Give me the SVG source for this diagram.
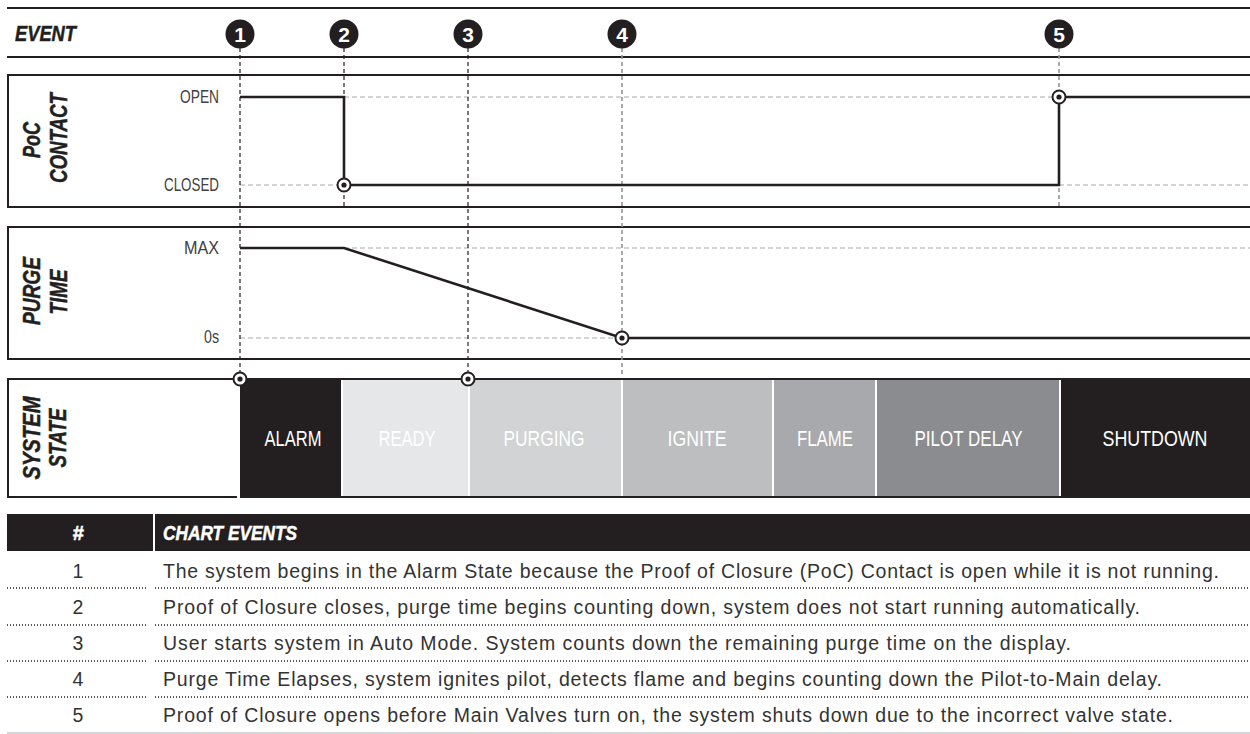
<svg xmlns="http://www.w3.org/2000/svg" width="1250" height="734" viewBox="0 0 1250 734">
  <defs>
    <style>
      .rule { stroke: #231f20; stroke-width: 2; fill: none; }
      .panel { fill: #ffffff; stroke: #231f20; stroke-width: 2; }
      .head { font-family: "Liberation Sans", Arial, sans-serif; font-weight: bold; font-style: italic; font-size: 22.5px; fill: #231f20; stroke: #231f20; stroke-width: 0.5; }
      .side { font-family: "Liberation Sans", Arial, sans-serif; font-weight: bold; font-style: italic; font-size: 24px; fill: #231f20; stroke: #231f20; stroke-width: 0.5; text-anchor: middle; }
      .axis { font-family: "Liberation Sans", Arial, sans-serif; font-size: 18px; fill: #414042; text-anchor: end; }
      .state { font-family: "Liberation Sans", Arial, sans-serif; font-size: 22px; fill: #ffffff; text-anchor: middle; }
      .num { font-family: "Liberation Sans", Arial, sans-serif; font-weight: bold; font-size: 21px; fill: #ffffff; text-anchor: middle; }
      .signal { stroke: #231f20; stroke-width: 2.6; fill: none; stroke-linejoin: miter; }
      .ref { stroke: #a7a9ac; stroke-width: 1; stroke-dasharray: 5 3; fill: none; }
      .evt-dark { stroke: #231f20; stroke-width: 1.2; stroke-dasharray: 4 3; fill: none; }
      .evt-grey { stroke: #939598; stroke-width: 1.6; stroke-dasharray: 4 3; fill: none; }
      .cell { font-family: "Liberation Sans", Arial, sans-serif; font-size: 19.5px; fill: #333333; }
      .cellnum { font-family: "Liberation Sans", Arial, sans-serif; font-size: 19.5px; fill: #333333; text-anchor: middle; }
      .dots { stroke: #231f20; stroke-width: 1.5; stroke-dasharray: 1 2; fill: none; }
    </style>
    <g id="dot-marker">
      <circle r="6.5" fill="#ffffff" stroke="#231f20" stroke-width="2"/>
      <circle r="2.6" fill="#231f20"/>
    </g>
  </defs>

  <rect width="1250" height="734" fill="#ffffff"/>

  <!-- event header row -->
  <g id="event-row">
    <line class="rule" x1="7" y1="8" x2="1250" y2="8"/>
    <line class="rule" x1="7" y1="57" x2="1250" y2="57"/>
    <text class="head" x="15" y="41" textLength="61" lengthAdjust="spacingAndGlyphs">EVENT</text>
  </g>

  <!-- chart panels -->
  <g id="panel-poc">
    <path class="panel" d="M1251,75 H8 V207 H1251"/>
    <text class="side" transform="translate(40,140) rotate(-90)" textLength="36" lengthAdjust="spacingAndGlyphs">PoC</text>
    <text class="side" transform="translate(67,138) rotate(-90)" textLength="90" lengthAdjust="spacingAndGlyphs">CONTACT</text>
    <text class="axis" x="219" y="103" textLength="39" lengthAdjust="spacingAndGlyphs">OPEN</text>
    <text class="axis" x="219" y="191" textLength="55" lengthAdjust="spacingAndGlyphs">CLOSED</text>
  </g>

  <g id="panel-purge">
    <path class="panel" d="M1251,227 H8 V359 H1251"/>
    <text class="side" transform="translate(40,291) rotate(-90)" textLength="68" lengthAdjust="spacingAndGlyphs">PURGE</text>
    <text class="side" transform="translate(67,292) rotate(-90)" textLength="45" lengthAdjust="spacingAndGlyphs">TIME</text>
    <text class="axis" x="219" y="254" textLength="35" lengthAdjust="spacingAndGlyphs">MAX</text>
    <text class="axis" x="219" y="343" textLength="15" lengthAdjust="spacingAndGlyphs">0s</text>
  </g>

  <g id="panel-state">
    <path class="panel" d="M237,379 H8 V497 H237"/>
    <text class="side" transform="translate(40,438) rotate(-90)" textLength="83" lengthAdjust="spacingAndGlyphs">SYSTEM</text>
    <text class="side" transform="translate(66,438) rotate(-90)" textLength="59" lengthAdjust="spacingAndGlyphs">STATE</text>
  </g>

  <!-- system states -->
  <g id="state-alarm">
    <rect x="240" y="380" width="101" height="117" fill="#231f20"/>
    <text class="state" x="293" y="446" textLength="57" lengthAdjust="spacingAndGlyphs">ALARM</text>
  </g>
  <g id="state-ready">
    <rect x="343" y="380" width="125" height="117" fill="#e6e7e8"/>
    <text class="state" x="407" y="446" textLength="57" lengthAdjust="spacingAndGlyphs">READY</text>
  </g>
  <g id="state-purging">
    <rect x="470" y="380" width="151" height="117" fill="#d1d3d4"/>
    <text class="state" x="544" y="446" textLength="81" lengthAdjust="spacingAndGlyphs">PURGING</text>
  </g>
  <g id="state-ignite">
    <rect x="623" y="380" width="149" height="117" fill="#bcbec0"/>
    <text class="state" x="697" y="446" textLength="59" lengthAdjust="spacingAndGlyphs">IGNITE</text>
  </g>
  <g id="state-flame">
    <rect x="774" y="380" width="101" height="117" fill="#a7a9ac"/>
    <text class="state" x="825" y="446" textLength="56" lengthAdjust="spacingAndGlyphs">FLAME</text>
  </g>
  <g id="state-pilot-delay">
    <rect x="877" y="380" width="182" height="117" fill="#8a8c8f"/>
    <text class="state" x="968.5" y="446" textLength="108" lengthAdjust="spacingAndGlyphs">PILOT DELAY</text>
  </g>
  <g id="state-shutdown">
    <rect x="1061" y="380" width="189" height="117" fill="#231f20"/>
    <text class="state" x="1155" y="446" textLength="105" lengthAdjust="spacingAndGlyphs">SHUTDOWN</text>
  </g>
  <g id="state-frame">
    <line class="rule" x1="238" y1="379" x2="1250" y2="379"/>
    <line class="rule" x1="240" y1="497" x2="1250" y2="497"/>
  </g>

  <!-- event guides, level references and signal traces -->
  <g id="connectors">
    <line class="ref" x1="344" y1="97" x2="1059" y2="97"/>
    <line class="ref" x1="240" y1="185" x2="344" y2="185"/>
    <line class="ref" x1="1059" y1="185" x2="1250" y2="185"/>
    <line class="ref" x1="344" y1="248" x2="1250" y2="248"/>
    <line class="ref" x1="240" y1="338" x2="622" y2="338"/>

    <line class="evt-dark" x1="240" y1="48" x2="240" y2="373"/>
    <line class="evt-dark" x1="344" y1="48" x2="344" y2="207"/>
    <line class="evt-dark" x1="468" y1="48" x2="468" y2="373"/>
    <line class="evt-grey" x1="622" y1="48" x2="622" y2="376"/>
    <line class="evt-grey" x1="1059" y1="48" x2="1059" y2="207"/>

    <polyline class="signal" points="240,97 344,97 344,185 1059,185 1059,97 1250,97"/>
    <polyline class="signal" points="240,248 344,248 622,338 1250,338"/>

    <use href="#dot-marker" x="344" y="185"/>
    <use href="#dot-marker" x="1059" y="97"/>
    <use href="#dot-marker" x="622" y="338"/>
    <use href="#dot-marker" x="240" y="379"/>
    <use href="#dot-marker" x="468" y="379"/>
  </g>

  <!-- numbered event badges -->
  <g id="event-1"><circle cx="240" cy="34" r="14.5" fill="#231f20"/><text class="num" x="240" y="41.5">1</text></g>
  <g id="event-2"><circle cx="344" cy="34" r="14.5" fill="#231f20"/><text class="num" x="344" y="41.5">2</text></g>
  <g id="event-3"><circle cx="468" cy="34" r="14.5" fill="#231f20"/><text class="num" x="468" y="41.5">3</text></g>
  <g id="event-4"><circle cx="622" cy="34" r="14.5" fill="#231f20"/><text class="num" x="622" y="41.5">4</text></g>
  <g id="event-5"><circle cx="1059" cy="34" r="14.5" fill="#231f20"/><text class="num" x="1059" y="41.5">5</text></g>

  <!-- event table -->
  <g id="table-header">
    <rect x="7" y="514" width="146" height="37" fill="#231f20"/>
    <rect x="155" y="514" width="1095" height="37" fill="#231f20"/>
    <text class="head" x="78" y="540" text-anchor="middle" style="fill:#ffffff;stroke:#ffffff;font-size:20px">#</text>
    <text class="head" x="163" y="540" style="fill:#ffffff;stroke:#ffffff;font-size:20px" textLength="134" lengthAdjust="spacingAndGlyphs">CHART EVENTS</text>
  </g>
  <g id="table-row-1">
    <text class="cellnum" x="78" y="578">1</text>
    <text class="cell" x="163" y="578" textLength="1056">The system begins in the Alarm State because the Proof of Closure (PoC) Contact is open while it is not running.</text>
    <line class="dots" x1="7" y1="588" x2="148" y2="588"/>
    <line class="dots" x1="155" y1="588" x2="1250" y2="588"/>
  </g>
  <g id="table-row-2">
    <text class="cellnum" x="78" y="614">2</text>
    <text class="cell" x="163" y="614" textLength="977">Proof of Closure closes, purge time begins counting down, system does not start running automatically.</text>
    <line class="dots" x1="7" y1="625" x2="148" y2="625"/>
    <line class="dots" x1="155" y1="625" x2="1250" y2="625"/>
  </g>
  <g id="table-row-3">
    <text class="cellnum" x="78" y="650">3</text>
    <text class="cell" x="163" y="650" textLength="908">User starts system in Auto Mode. System counts down the remaining purge time on the display.</text>
    <line class="dots" x1="7" y1="661" x2="148" y2="661"/>
    <line class="dots" x1="155" y1="661" x2="1250" y2="661"/>
  </g>
  <g id="table-row-4">
    <text class="cellnum" x="78" y="686">4</text>
    <text class="cell" x="163" y="686" textLength="999">Purge Time Elapses, system ignites pilot, detects flame and begins counting down the Pilot-to-Main delay.</text>
    <line class="dots" x1="7" y1="697" x2="148" y2="697"/>
    <line class="dots" x1="155" y1="697" x2="1250" y2="697"/>
  </g>
  <g id="table-row-5">
    <text class="cellnum" x="78" y="722">5</text>
    <text class="cell" x="163" y="722" textLength="1010">Proof of Closure opens before Main Valves turn on, the system shuts down due to the incorrect valve state.</text>
    <line x1="7" y1="733" x2="1250" y2="733" stroke="#c7c8ca" stroke-width="1.5"/>
  </g>
</svg>
